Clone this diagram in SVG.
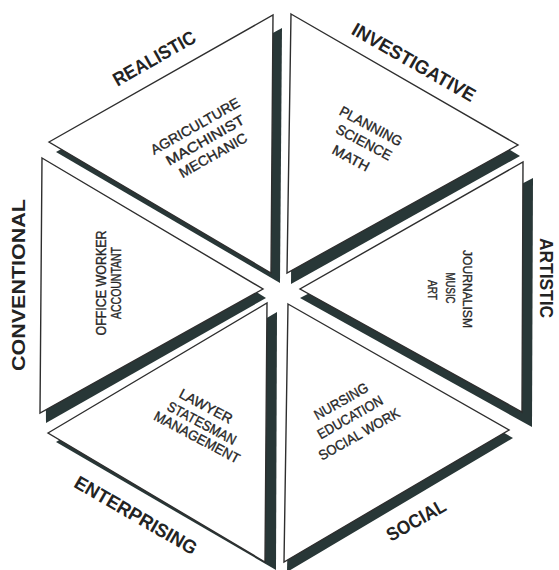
<svg xmlns="http://www.w3.org/2000/svg" width="559" height="570" viewBox="0 0 559 570">
<style>
.bg{fill:#ffffff}
.shadow{fill:#283737;stroke:none}
.tri{fill:#ffffff;stroke:#2e2e2e;stroke-width:1.4;stroke-linejoin:miter}
.cat{font-family:"Liberation Sans",Arial,sans-serif;font-weight:bold;font-size:19px;fill:#232323;text-anchor:middle}
.job{font-family:"Liberation Sans",Arial,sans-serif;font-size:14px;fill:#262626;stroke:#262626;stroke-width:0.35;text-anchor:middle}
.job.sm{font-size:13px}
</style>
<rect class="bg" x="0" y="0" width="559" height="570"/>

<g id="realistic">
  <polygon class="shadow" points="56,152 282,28 280,283"/>
  <polygon class="tri" points="49,142 273,15 271,273"/>
  <text class="cat" transform="translate(154,58) rotate(-29.6)" dy="0.36em" textLength="92" lengthAdjust="spacingAndGlyphs">REALISTIC</text>
  <text class="job" transform="translate(195,126) rotate(-29.6)" dy="0.36em" textLength="100" lengthAdjust="spacingAndGlyphs">AGRICULTURE</text>
  <text class="job" transform="translate(205,140) rotate(-29.6)" dy="0.36em" textLength="88" lengthAdjust="spacingAndGlyphs">MACHINIST</text>
  <text class="job" transform="translate(213,155) rotate(-29.6)" dy="0.36em" textLength="76" lengthAdjust="spacingAndGlyphs">MECHANIC</text>
</g>

<g id="investigative">
  <polygon class="shadow" points="293,20 520,156 291,284"/>
  <polygon class="tri" points="291,14 518,145 287,273"/>
  <text class="cat" transform="translate(414,62) rotate(29.7)" dy="0.36em" textLength="139" lengthAdjust="spacingAndGlyphs">INVESTIGATIVE</text>
  <text class="job" transform="translate(371,126) rotate(28)" dy="0.36em" textLength="69" lengthAdjust="spacingAndGlyphs">PLANNING</text>
  <text class="job" transform="translate(364,142) rotate(28)" dy="0.36em" textLength="61" lengthAdjust="spacingAndGlyphs">SCIENCE</text>
  <text class="job" transform="translate(351,158) rotate(28)" dy="0.36em" textLength="40" lengthAdjust="spacingAndGlyphs">MATH</text>
</g>

<g id="artistic">
  <polygon class="shadow" points="533,178 532,427 300,298"/>
  <polygon class="tri" points="523,162 522,412 300,289"/>
  <text class="cat" transform="translate(547,278) rotate(90)" dy="0.36em" textLength="80" lengthAdjust="spacingAndGlyphs">ARTISTIC</text>
  <text class="job sm" transform="translate(467.5,289) rotate(90)" dy="0.36em" textLength="78" lengthAdjust="spacingAndGlyphs">JOURNALISM</text>
  <text class="job sm" transform="translate(451,288) rotate(90)" dy="0.36em" textLength="31" lengthAdjust="spacingAndGlyphs">MUSIC</text>
  <text class="job sm" transform="translate(432.5,290) rotate(90)" dy="0.36em" textLength="20" lengthAdjust="spacingAndGlyphs">ART</text>
</g>

<g id="social">
  <polygon class="shadow" points="292,312 513,438 287,572"/>
  <polygon class="tri" points="288,304 509,430 284,562"/>
  <text class="cat" transform="translate(416,520) rotate(-29.6)" dy="0.36em" textLength="65" lengthAdjust="spacingAndGlyphs">SOCIAL</text>
  <text class="job" transform="translate(341,401) rotate(-29.6)" dy="0.36em" textLength="60" lengthAdjust="spacingAndGlyphs">NURSING</text>
  <text class="job" transform="translate(350,417) rotate(-29.6)" dy="0.36em" textLength="73" lengthAdjust="spacingAndGlyphs">EDUCATION</text>
  <text class="job" transform="translate(359,434) rotate(-29.6)" dy="0.36em" textLength="91" lengthAdjust="spacingAndGlyphs">SOCIAL WORK</text>
</g>

<g id="enterprising">
  <polygon class="shadow" points="56,442 277,312 276,570"/>
  <polygon class="tri" points="48,433 267,303 265,562"/>
  <text class="cat" transform="translate(136,515) rotate(30)" dy="0.36em" textLength="138" lengthAdjust="spacingAndGlyphs">ENTERPRISING</text>
  <text class="job" transform="translate(206,406) rotate(28)" dy="0.36em" textLength="58" lengthAdjust="spacingAndGlyphs">LAWYER</text>
  <text class="job" transform="translate(202,423) rotate(28)" dy="0.36em" textLength="76" lengthAdjust="spacingAndGlyphs">STATESMAN</text>
  <text class="job" transform="translate(197,437) rotate(28)" dy="0.36em" textLength="95" lengthAdjust="spacingAndGlyphs">MANAGEMENT</text>
</g>

<g id="conventional">
  <polygon class="shadow" points="44,160 266,298 46,423"/>
  <polygon class="tri" points="42,158 263,289 40,413"/>
  <text class="cat" transform="translate(18,285) rotate(-90)" dy="0.36em" textLength="172" lengthAdjust="spacingAndGlyphs">CONVENTIONAL</text>
  <text class="job" transform="translate(101,283) rotate(-90)" dy="0.36em" textLength="105" lengthAdjust="spacingAndGlyphs">OFFICE WORKER</text>
  <text class="job" transform="translate(116,283) rotate(-90)" dy="0.36em" textLength="72" lengthAdjust="spacingAndGlyphs">ACCOUNTANT</text>
</g>
</svg>
